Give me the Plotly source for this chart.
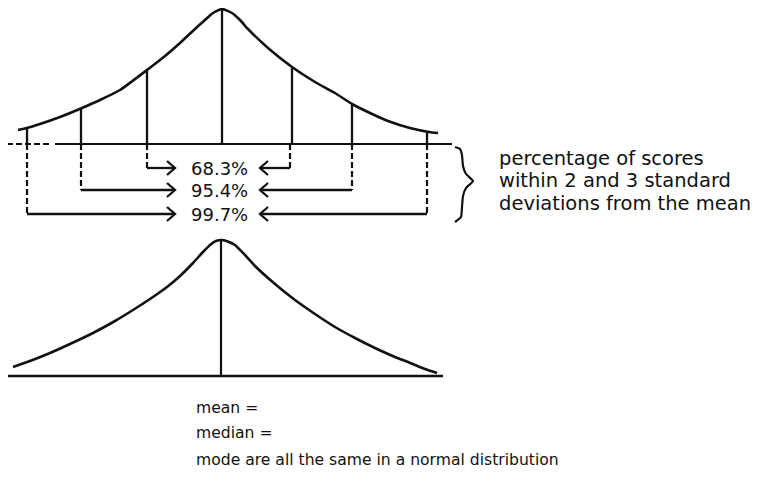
import plotly.graph_objects as go

# ---- data (diagram units: x to the right, y downward) ----
top_curve_x = [18, 27, 40, 60, 82, 100, 120, 147, 165, 180, 195, 205, 213, 222,
               232, 240, 248, 268, 292, 315, 335, 352, 370, 388, 410, 432, 438]
top_curve_y = [130, 128, 124, 117, 108, 100, 90, 70, 56, 43, 29, 20, 13, 9,
               13, 20, 29, 48, 67, 82, 93, 104, 113, 121, 128, 132.5, 133]
top_base_y = 144
top_base_x = [7, 452]

sd_x = [27, 81, 147, 222, 292, 352, 427]          # -3, -2, -1, mean, +1, +2, +3
sd_top = [128, 108, 70, 9, 67, 104, 132]

pct_labels = ["68.3%", "95.4%", "99.7%"]
pct_rows_y = [168, 190, 214]
left_from = [147, 81, 27]
right_from = [290, 352, 427]
arrow_left_tip = 175
arrow_right_tip = 260

bot_curve_x = [13, 30, 50, 70, 93, 115, 133, 150, 167, 180, 193, 203, 210, 216, 222,
               229, 235, 245, 255, 275, 295, 315, 335, 355, 375, 395, 408, 425, 437]
bot_curve_y = [367, 361, 353, 344, 333, 321, 310, 299, 287, 276, 263, 252, 245, 241, 240,
               242, 245, 255, 266, 284, 300, 314, 327, 338, 348, 357, 362, 369, 373]
bot_base_y = 376
bot_base_x = [7, 443]
bot_mean_x = 221
bot_mean_top = 240

brace_x = [455, 460, 462, 463, 466, 473, 466, 463, 462, 461, 455]
brace_y = [147, 149, 155, 166, 174, 181, 188, 196, 207, 217, 222]

side_text = ["percentage of scores", "within 2 and 3 standard", "deviations from the mean"]
side_text_y = [158, 180.5, 203]
bottom_text = ["mean =", "median =", "mode are all the same in a normal distribution"]
bottom_text_y = [408, 433, 460]

FONT = "DejaVu Sans"
INK = "#111111"
PAGE_MARGIN = 8  # default body margin of the html page

fig = go.Figure()

def add_curve(xs, ys, width=2.6):
    fig.add_trace(go.Scatter(x=xs, y=ys, mode="lines", hoverinfo="skip",
                             line=dict(color=INK, width=width, shape="spline", smoothing=0.5)))

def add_poly(xs, ys, width=2.2, dash="solid"):
    fig.add_trace(go.Scatter(x=xs, y=ys, mode="lines", hoverinfo="skip",
                             line=dict(color=INK, width=width, dash=dash)))

# top curve and baseline
add_curve(top_curve_x, top_curve_y, 2.6)
add_poly([top_base_x[0], 50], [top_base_y, top_base_y], 2.2, "6px,3px")
add_poly([55, top_base_x[1]], [top_base_y, top_base_y], 2.2)

# vertical sd lines
vx, vy = [], []
for x, t in zip(sd_x, sd_top):
    vx += [x, x, None]
    vy += [t, top_base_y, None]
add_poly(vx, vy, 2.3)

# dashed drops and arrows
dx, dy = [], []
ax, ay = [], []
for i, yr in enumerate(pct_rows_y):
    lx, rx = left_from[i], right_from[i]
    dx += [lx, lx, None, rx, rx, None]
    dy += [top_base_y, yr, None, top_base_y, yr, None]
    ax += [lx, arrow_left_tip, None, arrow_left_tip - 8, arrow_left_tip, arrow_left_tip - 8, None]
    ay += [yr, yr, None, yr - 7, yr, yr + 7, None]
    ax += [rx, arrow_right_tip, None, arrow_right_tip + 8, arrow_right_tip, arrow_right_tip + 8, None]
    ay += [yr, yr, None, yr - 7, yr, yr + 7, None]
add_poly(dx, dy, 2.2, "6px,3px")
add_poly(ax, ay, 2.3)

# brace
add_curve(brace_x, brace_y, 2.2)

# bottom curve
add_curve(bot_curve_x, bot_curve_y, 2.6)
add_poly(bot_base_x, [bot_base_y, bot_base_y], 2.4)
add_poly([bot_mean_x, bot_mean_x], [bot_mean_top, bot_base_y], 2.2)

# texts
for lab, y in zip(pct_labels, pct_rows_y):
    fig.add_annotation(x=219, y=y, text=lab, showarrow=False, xanchor="center", yanchor="middle",
                       font=dict(family=FONT, size=18, color=INK))
for lab, y in zip(side_text, side_text_y):
    fig.add_annotation(x=497, y=y, text=lab, showarrow=False, xanchor="left", yanchor="middle",
                       font=dict(family=FONT, size=19.5, color=INK))
for lab, y in zip(bottom_text, bottom_text_y):
    fig.add_annotation(x=194, y=y, text=lab, showarrow=False, xanchor="left", yanchor="middle",
                       font=dict(family=FONT, size=15.6, color=INK))

W, H = 778, 481
fig.update_xaxes(range=[PAGE_MARGIN, W], visible=False, fixedrange=True)
fig.update_yaxes(range=[H, PAGE_MARGIN], visible=False, fixedrange=True)
fig.update_layout(width=W - PAGE_MARGIN, height=H - PAGE_MARGIN, margin=dict(l=0, r=0, t=0, b=0),
                  paper_bgcolor="white", plot_bgcolor="white", showlegend=False)

fig.write_html("out.html")
